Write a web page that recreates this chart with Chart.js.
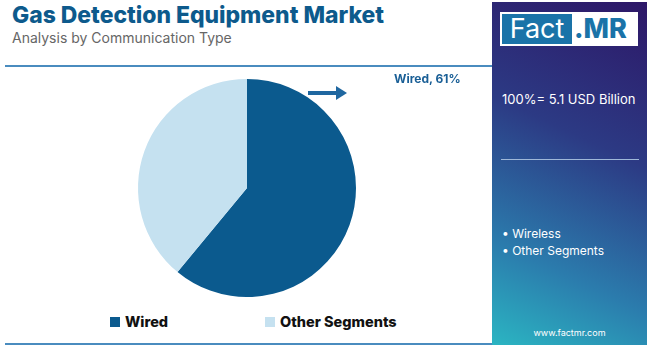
<!DOCTYPE html>
<html>
<head>
<meta charset="utf-8">
<script src="https://cdn.jsdelivr.net/npm/chart.js@4"></script>
<style>
  body { margin: 0; width: 650px; height: 347px; background: #fff; font-family: "Inter", "Open Sans", sans-serif; overflow: hidden; }
  #wrap { position: relative; width: 650px; height: 347px; }
  #title { position: absolute; left: 12px; top: 1px; font-size: 22.9px; font-weight: 800; color: #0d5a8c; letter-spacing: 0px; }
  #sub { position: absolute; left: 12px; top: 29px; font-size: 14px; color: #666; }
  #topline { position: absolute; left: 5px; top: 65px; width: 487px; height: 2px; background: #4a8cbf; }
  #botline { position: absolute; left: 5px; top: 343px; width: 487px; height: 2px; background: #4a8cbf; }
  #chartbox { position: absolute; left: 0; top: 79px; width: 494px; height: 218px; }
  #lbl { position: absolute; left: 394px; top: 71px; font-size: 12px; font-weight: 700; color: #1a5f96; }
  #arrow { position: absolute; left: 308px; top: 85px; }
  .leg { position: absolute; top: 313px; font-size: 14.5px; font-weight: 800; color: #111; }
  .leg span { display: inline-block; width: 10px; height: 10px; margin-right: 5px; }
  #panel { position: absolute; left: 492px; top: 2px; width: 155px; height: 343px;
    background: linear-gradient(205deg, #2d1767 0%, #2c3a84 40%, #2b7cad 75%, #2bb5c2 100%); }
  #logo { position: absolute; left: 8px; top: 10px; width: 138px; height: 34px; background: #fff; }
  #logo .f { position: absolute; left: 2px; top: 2px; width: 70px; height: 30px; background: #1a73a8; color: #fff; font-size: 27px; line-height: 30px; text-align: center; }
  #logo .m { position: absolute; left: 74px; top: 2px; font-size: 27px; line-height: 30px; color: #1a73a8; font-weight: 800; }
  #total { position: absolute; left: 10px; top: 89px; font-size: 13px; color: #fff; }
  #pline { position: absolute; left: 9px; top: 157px; width: 138px; height: 1px; background: #9fb8d8; }
  .pi { position: absolute; left: 10px; font-size: 12px; color: #fff; }
  #url { position: absolute; left: 0; width: 155px; top: 325px; font-size: 9px; color: #fff; text-align: center; }
</style>
</head>
<body>
<div id="wrap">
  <div id="title">Gas Detection Equipment Market</div>
  <div id="sub">Analysis by Communication Type</div>
  <div id="topline"></div>
  <div id="chartbox"><canvas id="pie" width="494" height="218"></canvas></div>
  <svg id="arrow" width="42" height="16"><line x1="0" y1="8" x2="30" y2="8" stroke="#1f67a0" stroke-width="4"/><polygon points="28,1 39,8 28,15" fill="#1f67a0"/></svg>
  <div id="lbl"></div>
  <div class="leg" id="leg0" style="left:110px"></div>
  <div class="leg" id="leg1" style="left:265px"></div>
  <div id="botline"></div>
  <div id="panel">
    <div id="logo"><div class="f">Fact</div><div class="m">.MR</div></div>
    <div id="total">100%= 5.1 USD Billion</div>
    <div id="pline"></div>
    <div class="pi" style="top:224px">• Wireless</div>
    <div class="pi" style="top:241px">• Other Segments</div>
    <div id="url">www.factmr.com</div>
  </div>
</div>
<script>
const labels = ['Wired', 'Other Segments'];
const shares = [61, 39];
const colors = ['#0b5a8e', '#c5e1f0'];

document.getElementById('lbl').textContent = labels[0] + ', ' + shares[0] + '%';
labels.forEach((l, i) => {
    const el = document.getElementById('leg' + i);
    el.innerHTML = '<span style="background:' + colors[i] + '"></span>' + l;
});

const ctx = document.getElementById('pie').getContext('2d');
new Chart(ctx, {
    type: 'pie',
    data: {
        labels: labels,
        datasets: [{
            data: shares,
            backgroundColor: colors,
            borderWidth: 0
        }]
    },
    options: {
        responsive: false,
        animation: false,
        plugins: {
            legend: { display: false },
            tooltip: { enabled: false }
        }
    }
});
</script>
</body>
</html>
